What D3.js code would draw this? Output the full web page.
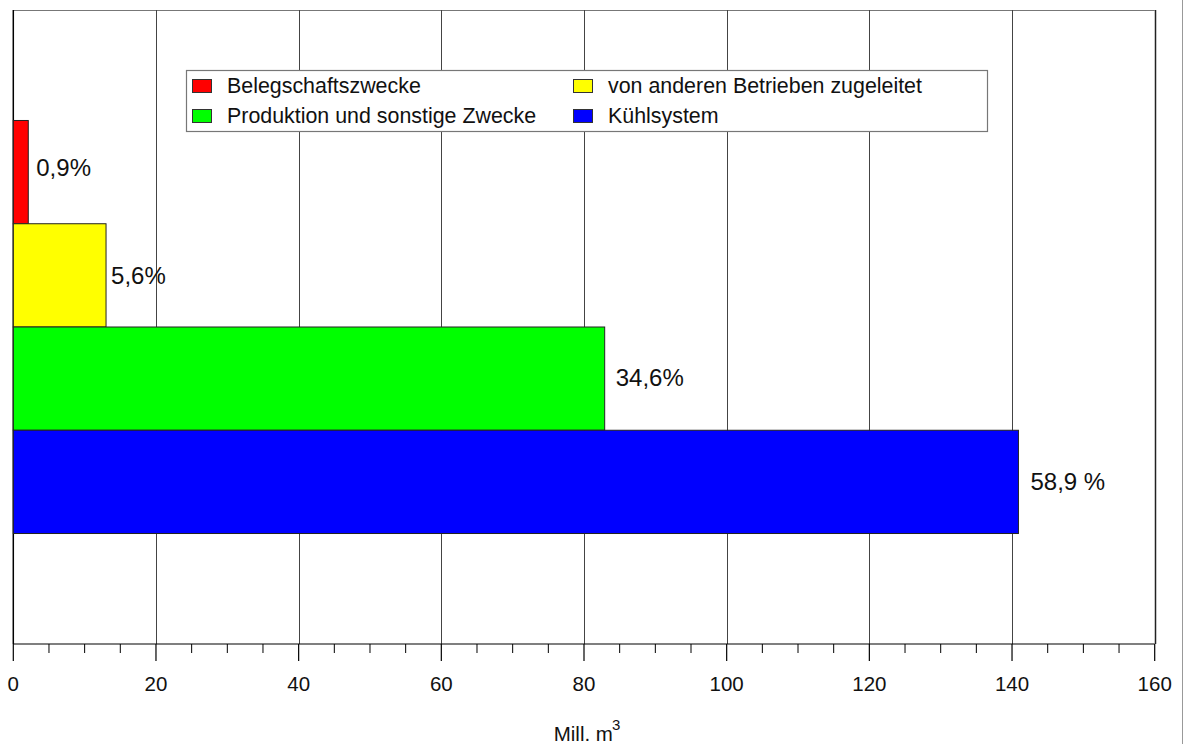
<!DOCTYPE html>
<html>
<head>
<meta charset="utf-8">
<script src="https://cdn.jsdelivr.net/npm/d3@7"></script>
<style>
  body { margin: 0; background: #fff; }
  svg { display: block; font-family: "Liberation Sans", Arial, sans-serif; }
</style>
</head>
<body>
<svg id="chart" width="1184" height="744"></svg>
<script>
const categories = ["Belegschaftszwecke", "von anderen Betrieben zugeleitet", "Produktion und sonstige Zwecke", "Kühlsystem"];
const values = [2.1, 13.0, 82.9, 140.9];
const percentLabels = ["0,9%", "5,6%", "34,6%", "58,9 %"];
const colors = ["#ff0000", "#ffff00", "#00ff00", "#0000ff"];
const xTicks = [0, 20, 40, 60, 80, 100, 120, 140, 160];
const legendOrder = [[0, 1], [2, 3]]; // rows of category indices
const axisTitle = "Mill. m";
const axisTitleSup = "3";

const svg = d3.select("#chart");
const pLeft = 13.3, pRight = 1154.7, pTop = 10, pBottom = 644;

const x = d3.scaleLinear().domain([0, 160]).range([pLeft, pRight]);
const y = d3.scaleBand().domain(categories).range([pTop, pBottom]).paddingInner(0).paddingOuter(1.07);

// outer page border line at right
svg.append("line").attr("x1", 1182.5).attr("x2", 1182.5).attr("y1", 0).attr("y2", 744)
  .attr("stroke", "#999").attr("stroke-width", 1);

// top frame line
svg.append("line").attr("x1", pLeft).attr("x2", pRight).attr("y1", pTop + 0.5).attr("y2", pTop + 0.5)
  .attr("stroke", "#777").attr("stroke-width", 1.2);

// vertical gridlines
svg.append("g").selectAll("line").data(xTicks.slice(1)).join("line")
  .attr("x1", d => Math.round(x(d)) + 0.5).attr("x2", d => Math.round(x(d)) + 0.5)
  .attr("y1", pTop).attr("y2", pBottom)
  .attr("stroke", d => d === 160 ? "#222" : "#444").attr("stroke-width", d => d === 160 ? 1.5 : 1);

// left frame
svg.append("line").attr("x1", pLeft).attr("x2", pLeft).attr("y1", pTop).attr("y2", pBottom)
  .attr("stroke", "#000").attr("stroke-width", 1.5);

// bars
svg.append("g").selectAll("rect").data(categories).join("rect")
  .attr("x", x(0))
  .attr("y", d => y(d))
  .attr("width", (d, i) => x(values[i]) - x(0))
  .attr("height", y.bandwidth())
  .attr("fill", (d, i) => colors[i])
  .attr("stroke", "#222").attr("stroke-width", 1);

// percent labels
const labelDx = [8, 5, 11, 12];
const labelDy = [-5, 0, -1, 0];
svg.append("g").selectAll("text").data(categories).join("text")
  .attr("x", (d, i) => x(values[i]) + labelDx[i])
  .attr("y", (d, i) => y(d) + y.bandwidth() / 2 + labelDy[i])
  .attr("dy", "0.35em")
  .attr("font-size", 24).attr("fill", "#111")
  .text((d, i) => percentLabels[i]);

// x axis
const axis = svg.append("g").attr("transform", `translate(0,${pBottom})`);
axis.append("line").attr("x1", pLeft).attr("x2", pRight).attr("y1", 0).attr("y2", 0)
  .attr("stroke", "#000").attr("stroke-width", 1.2);
const minor = d3.range(0, 161, 5).filter(v => v % 20 !== 0);
axis.selectAll("line.minor").data(minor).join("line").attr("class", "minor")
  .attr("x1", d => x(d)).attr("x2", d => x(d)).attr("y1", 0).attr("y2", 9)
  .attr("stroke", "#000").attr("stroke-width", 1);
axis.selectAll("line.major").data(xTicks).join("line").attr("class", "major")
  .attr("x1", d => x(d)).attr("x2", d => x(d)).attr("y1", 0).attr("y2", 17)
  .attr("stroke", "#000").attr("stroke-width", 1.2);
axis.selectAll("text").data(xTicks).join("text")
  .attr("x", d => x(d)).attr("y", 47)
  .attr("text-anchor", "middle").attr("font-size", 20.5).attr("fill", "#111")
  .text(d => d);

// axis title
const title = svg.append("text").attr("x", 587).attr("y", 741)
  .attr("text-anchor", "middle").attr("font-size", 20.5).attr("fill", "#111");
title.append("tspan").text(axisTitle);
title.append("tspan").attr("font-size", 15).attr("dx", -1).attr("dy", -11).text(axisTitleSup);

// legend
const lg = svg.append("g");
lg.append("rect").attr("x", 186.5).attr("y", 70.5).attr("width", 801).attr("height", 61)
  .attr("fill", "#fff").attr("stroke", "#777").attr("stroke-width", 1.2);
const colX = [192, 573];
const rowY = [86, 116];
legendOrder.forEach((row, r) => {
  row.forEach((ci, c) => {
    lg.append("rect").attr("x", colX[c] + 0.5).attr("y", rowY[r] - 7 + 0.5)
      .attr("width", 19).attr("height", 13)
      .attr("fill", colors[ci]).attr("stroke", "#333").attr("stroke-width", 1);
    lg.append("text").attr("x", colX[c] + 35).attr("y", rowY[r]).attr("dy", "0.35em")
      .attr("font-size", 21.4).attr("fill", "#111").text(categories[ci]);
  });
});
</script>
</body>
</html>
